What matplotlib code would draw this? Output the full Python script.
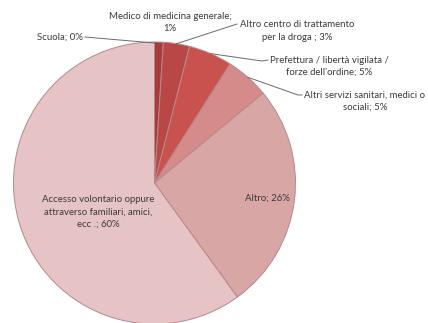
import matplotlib
matplotlib.use("Agg")
import matplotlib.pyplot as plt
import numpy as np

# Channels of access to treatment (share of clients, %)
categories = [
    "Scuola",
    "Medico di medicina generale",
    "Altro centro di trattamento per la droga",
    "Prefettura / libertà vigilata / forze dell'ordine",
    "Altri servizi sanitari, medici o sociali",
    "Altro",
    "Accesso volontario oppure attraverso familiari, amici, ecc .",
]
values = [0, 1, 3, 5, 5, 26, 60]
label_texts = [
    "Scuola; 0%",
    "Medico di medicina generale;\n1%",
    "Altro centro di trattamento\nper la droga ; 3%",
    "Prefettura / libertà vigilata /\nforze dell'ordine; 5%",
    "Altri servizi sanitari, medici o\nsociali; 5%",
    "Altro; 26%",
    "Accesso volontario oppure\nattraverso familiari, amici,\necc .; 60%",
]
colors = ["#9e3433", "#a83b3a", "#b84745", "#c9524f", "#d48b8a", "#d9a6a6", "#e6c4c5"]

W, H = 428, 323
fig = plt.figure(figsize=(W / 100, H / 100), dpi=100)
ax = fig.add_axes([0, 0, 1, 1])

def py(y):
    # convert a top-down pixel row to a data y coordinate
    return H - y

cx, cy, r = 154.5, py(183), 141
wedges, _ = ax.pie(values, colors=colors, startangle=90, counterclock=False,
                   center=(cx, cy), radius=r, frame=True,
                   wedgeprops=dict(edgecolor="#b8878a", linewidth=0.7))
ax.set_xlim(0, W)
ax.set_ylim(0, H)
ax.set_aspect("equal")
ax.axis("off")

def edge_point(w, frac=1.0):
    ang = np.deg2rad((w.theta1 + w.theta2) / 2)
    return cx + frac * r * np.cos(ang), cy + frac * r * np.sin(ang)

font = dict(family=["Lato", "DejaVu Sans"], size=6.9, color="#3a3a3a")
lc = "#6a6a6a"

# Outside labels with leader lines
ax.text(83, py(37), label_texts[0], ha="right", va="center", **font)
ax.plot([85, cx], [py(37), py(43)], color=lc, lw=0.7)

ax.text(170, py(22.5), label_texts[1], ha="center", va="center",
        linespacing=1.45, **font)

ax.text(297, py(31), label_texts[2], ha="center", va="center",
        linespacing=1.45, **font)
x0, y0 = edge_point(wedges[2])
ax.plot([x0, 237], [y0, py(24)], color=lc, lw=0.7)

ax.text(329, py(66.5), label_texts[3], ha="center", va="center",
        linespacing=1.45, **font)
x0, y0 = edge_point(wedges[3])
ax.plot([x0, 262, 268], [y0, py(61), py(60)], color=lc, lw=0.7)

ax.text(365, py(101.5), label_texts[4], ha="center", va="center",
        linespacing=1.45, **font)
x0, y0 = edge_point(wedges[4])
ax.plot([x0, 298, 302], [y0, py(95), py(95)], color=lc, lw=0.7)

# Inside labels
ax.text(267, py(198), label_texts[5], ha="center", va="center", **font)
ax.text(98, py(212), label_texts[6], ha="center", va="center",
        linespacing=1.5, **font)

fig.savefig("out.png", dpi=100)
